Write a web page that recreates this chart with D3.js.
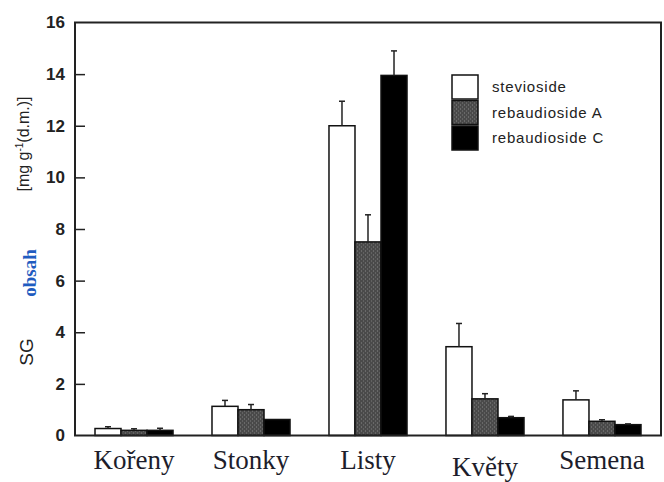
<!DOCTYPE html>
<html>
<head>
<meta charset="utf-8">
<script src="https://cdn.jsdelivr.net/npm/d3@7"></script>
<style>
  body { margin: 0; background: #fff; }
  svg { display: block; }
</style>
</head>
<body>
<div id="chart"></div>
<script>
// data
var categories = ["Kořeny", "Stonky", "Listy", "Květy", "Semena"];
var seriesNames = ["stevioside", "rebaudioside A", "rebaudioside C"];
var stevioside = [0.27, 1.13, 12.0, 3.44, 1.38];
var steviosideErr = [0.07, 0.23, 0.95, 0.9, 0.35];
var rebaudiosideA = [0.2, 1.0, 7.5, 1.42, 0.55];
var rebaudiosideAErr = [0.06, 0.2, 1.05, 0.2, 0.06];
var rebaudiosideC = [0.2, 0.62, 13.95, 0.69, 0.42];
var rebaudiosideCErr = [0.08, 0, 0.95, 0.05, 0.03];
var yTicks = [0, 2, 4, 6, 8, 10, 12, 14, 16];

var width = 664, height = 482;
var margin = {top: 22.5, right: 3, bottom: 46.5, left: 75};
var innerW = width - margin.left - margin.right,
    innerH = height - margin.top - margin.bottom;

var values = [stevioside, rebaudiosideA, rebaudiosideC];
var errors = [steviosideErr, rebaudiosideAErr, rebaudiosideCErr];

var svg = d3.select("#chart").append("svg")
    .attr("width", width)
    .attr("height", height);

// stippled grey like the scan
var defs = svg.append("defs");
var pat = defs.append("pattern")
    .attr("id", "dots")
    .attr("patternUnits", "userSpaceOnUse")
    .attr("width", 4).attr("height", 4);
pat.append("rect").attr("width", 4).attr("height", 4).attr("fill", "#4a4a4a");
pat.append("rect").attr("x", 0).attr("y", 0).attr("width", 1).attr("height", 1).attr("fill", "#8a8a8a");
pat.append("rect").attr("x", 2).attr("y", 2).attr("width", 1).attr("height", 1).attr("fill", "#7a7a7a");

var fills = ["#ffffff", "url(#dots)", "#000000"];

var g = svg.append("g")
    .attr("transform", "translate(" + margin.left + "," + margin.top + ")");

var x0 = d3.scaleBand()
    .domain(categories)
    .range([0, innerW])
    .paddingInner(0.333)
    .paddingOuter(0.171);
var x1 = d3.scaleBand()
    .domain(seriesNames)
    .range([0, x0.bandwidth()]);
var y = d3.scaleLinear()
    .domain([0, 16])
    .range([innerH, 0]);

// bars
var groups = g.selectAll(".grp")
    .data(categories)
  .enter().append("g")
    .attr("class", "grp")
    .attr("transform", function(d) { return "translate(" + x0(d) + ",0)"; });

seriesNames.forEach(function(s, si) {
  groups.append("rect")
      .attr("x", x1(s))
      .attr("width", x1.bandwidth())
      .attr("y", function(d, i) { return y(values[si][i]); })
      .attr("height", function(d, i) { return innerH - y(values[si][i]); })
      .attr("fill", fills[si])
      .attr("stroke", "#111")
      .attr("stroke-width", 1.5);

  // error bars, only upward
  groups.filter(function(d, i) { return errors[si][i] > 0; })
    .each(function(d) {
      var i = categories.indexOf(d);
      var cx = x1(s) + x1.bandwidth() / 2;
      var top = y(values[si][i] + errors[si][i]);
      var sel = d3.select(this);
      sel.append("line")
          .attr("x1", cx).attr("x2", cx)
          .attr("y1", y(values[si][i])).attr("y2", top)
          .attr("stroke", "#222").attr("stroke-width", 1.5);
      sel.append("line")
          .attr("x1", cx - 3).attr("x2", cx + 3)
          .attr("y1", top).attr("y2", top)
          .attr("stroke", "#222").attr("stroke-width", 1.5);
    });
});

// frame
g.append("rect")
    .attr("width", innerW)
    .attr("height", innerH)
    .attr("fill", "none")
    .attr("stroke", "#222")
    .attr("stroke-width", 2);

// y axis, ticks pointing inward
var yAxis = g.append("g")
    .call(d3.axisLeft(y).tickValues(yTicks).tickSize(0).tickPadding(10));
yAxis.select(".domain").remove();
yAxis.selectAll("text")
    .style("font-family", "'Liberation Sans', Arial, sans-serif")
    .style("font-size", "17px")
    .style("font-weight", "bold")
    .attr("fill", "#222");
yAxis.selectAll(".tick")
    .filter(function(d) { return d > 0 && d < 16; })
    .append("line")
    .attr("x1", 0).attr("x2", 10)
    .attr("stroke", "#222").attr("stroke-width", 1.5);

// x labels
var xAxis = g.append("g")
    .attr("transform", "translate(0," + innerH + ")")
    .call(d3.axisBottom(x0).tickSize(0));
xAxis.select(".domain").remove();
xAxis.selectAll("text")
    .attr("y", function(d) { return d === "Květy" ? 40 : 33; })
    .attr("dy", 0)
    .style("font-family", "'Liberation Serif', 'Times New Roman', serif")
    .style("font-size", "27px")
    .attr("fill", "#1d1d2b");

// y title, three pieces like the source
var tg = svg.append("g");
tg.append("text")
    .attr("transform", "translate(33,352) rotate(-90)")
    .attr("text-anchor", "middle")
    .style("font-family", "'Liberation Sans', Arial, sans-serif")
    .style("font-size", "19px")
    .attr("fill", "#222")
    .text("SG");
tg.append("text")
    .attr("transform", "translate(36,273) rotate(-90)")
    .attr("text-anchor", "middle")
    .style("font-family", "'Liberation Serif', serif")
    .style("font-size", "19px")
    .style("font-weight", "bold")
    .attr("fill", "#1f5cc0")
    .text("obsah");
var unit = tg.append("text")
    .attr("transform", "translate(29,144) rotate(-90)")
    .attr("text-anchor", "middle")
    .style("font-family", "'Liberation Sans', Arial, sans-serif")
    .style("font-size", "16px")
    .attr("fill", "#222");
unit.append("tspan").text("[mg g");
unit.append("tspan").attr("dy", -6).style("font-size", "10px").text("-1");
unit.append("tspan").attr("dy", 6).text("(d.m.)]");

// legend
var legend = svg.append("g")
    .attr("transform", "translate(452,75)");
seriesNames.forEach(function(s, i) {
  var row = legend.append("g").attr("transform", "translate(0," + (i * 25.5) + ")");
  row.append("rect")
      .attr("width", 26).attr("height", 24)
      .attr("fill", fills[i])
      .attr("stroke", "#111").attr("stroke-width", 1.5);
  row.append("text")
      .attr("x", 40).attr("y", 12).attr("dy", "0.35em")
      .style("font-family", "'Liberation Sans', Arial, sans-serif")
      .style("font-size", "15px")
      .style("letter-spacing", "0.8px")
      .attr("fill", "#222")
      .text(s);
});
</script>
</body>
</html>
